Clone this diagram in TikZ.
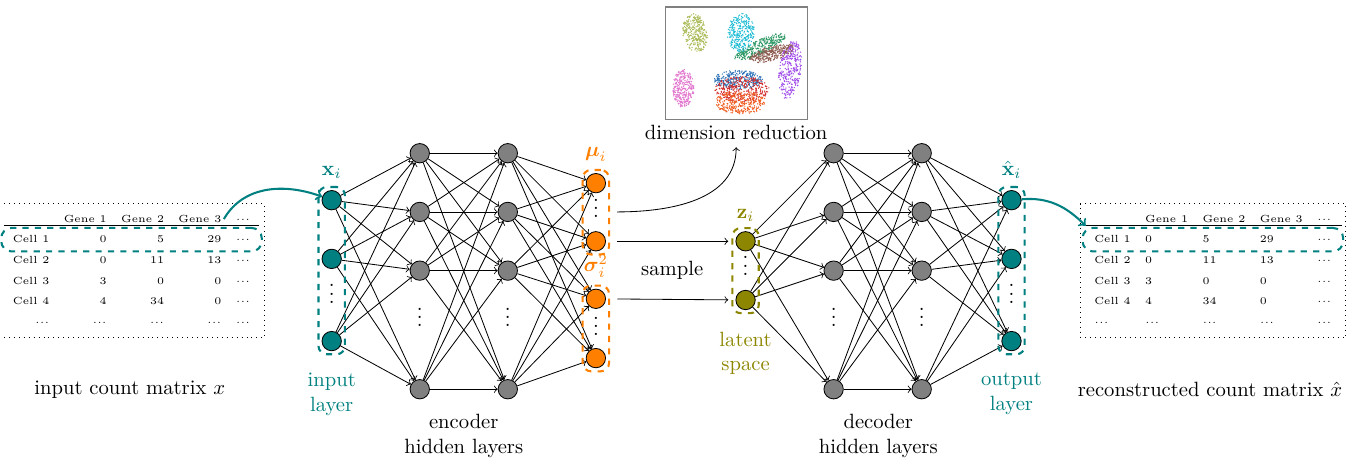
\documentclass[tikz,border=0pt]{standalone}
\usepackage{xcolor}
\usepackage{amssymb}
\usepackage{amsmath}
\usetikzlibrary{positioning,fit,matrix}

\definecolor{clolive}{RGB}{172,186,88}
\definecolor{clpink}{RGB}{226,118,206}
\definecolor{clcyan}{RGB}{28,188,212}
\definecolor{clgreen}{RGB}{42,150,98}
\definecolor{clbrown}{RGB}{142,92,80}
\definecolor{clpurple}{RGB}{158,72,232}
\definecolor{clblue}{RGB}{44,112,182}
\definecolor{clred}{RGB}{212,40,40}
\definecolor{clorange}{RGB}{240,92,30}

\newcommand{\celldots}{${\cdot}{\cdot}{\cdot}$}

\begin{document}
\begin{tikzpicture}[scale=1,
	neuron/.style={circle, draw, minimum size=0.33cm, inner sep=0pt},
	innode/.style={neuron, fill=teal},
	hidnode/.style={neuron, fill=gray},
	parnode/.style={neuron, fill=orange},
	latnode/.style={neuron, fill=olive},
	dotnode/.style={inner sep=0pt, yshift=3pt},
	conn/.style={->},
	layerbox/.style={draw, dashed, line width=1pt, rounded corners=4pt, inner sep=1.5pt},
	datatab/.style={matrix of nodes, nodes in empty cells, draw, dotted, inner xsep=5.8pt, inner ysep=2.5pt, column sep=5pt,
		nodes={font=\tiny, inner xsep=1pt, inner ysep=2.5pt, text height=4pt, text depth=1pt}},
	rowbox/.style={draw=teal, dashed, line width=1pt, rounded corners=5pt, inner xsep=4.5pt, inner ysep=0.5pt},
	tealarrow/.style={->, draw=teal, line width=1pt}]

	\useasboundingbox (0,0) rectangle (23.03,7.99);

	% count matrices
	\matrix (tin) [datatab, nodes={anchor=base east}] at (2.24,3.38) {
		 & Gene 1 & Gene 2 & Gene 3 & \celldots \\
		Cell 1 & 0 & 5 & 29 & \celldots \\
		Cell 2 & 0 & 11 & 13 & \celldots \\
		Cell 3 & 3 & 0 & 0 & \celldots \\
		Cell 4 & 4 & 34 & 0 & \celldots \\
		\celldots & \celldots & \celldots & \celldots & \celldots \\
	};
	\matrix (tout) [datatab, nodes={anchor=base west}] at (20.66,3.38) {
		 & Gene 1 & Gene 2 & Gene 3 & \celldots \\
		Cell 1 & 0 & 5 & 29 & \celldots \\
		Cell 2 & 0 & 11 & 13 & \celldots \\
		Cell 3 & 3 & 0 & 0 & \celldots \\
		Cell 4 & 4 & 34 & 0 & \celldots \\
		\celldots & \celldots & \celldots & \celldots & \celldots \\
	};
	\coordinate (rulein) at ([xshift=-3pt,yshift=1.5pt]tin-2-1.north west);
	\coordinate (ruleout) at ([xshift=-3pt,yshift=1.5pt]tout-2-1.north west);
	\draw (rulein) -- ([xshift=3pt,yshift=1.5pt]tin-2-5.north east);
	\draw (ruleout) -- ([xshift=4pt,yshift=1.5pt]tout-2-5.north east);
	\node[rowbox, fit=(tin-2-1)(tin-2-5)] (rowin) {};
	\node[rowbox, fit=(tout-2-1)(tout-2-5)] (rowout) {};
	\node (inlabel) at (2.21,1.36) {input count matrix $x$};
	\node (outlabel) at (20.61,1.36) {reconstructed count matrix $\hat{x}$};

	% encoder
	\node[innode] (in1) at (5.65,4.58) {};
	\node[innode] (in2) at (5.65,3.58) {};
	\node[innode] (in3) at (5.65,2.18) {};
	\node[dotnode] (indots) at (5.65,2.98) {$\vdots$};

	\node[hidnode] (ea1) at (7.15,5.38) {};
	\node[hidnode] (ea2) at (7.15,4.38) {};
	\node[hidnode] (ea3) at (7.15,3.38) {};
	\node[hidnode] (ea4) at (7.15,1.36) {};
	\node[dotnode] (eadots) at (7.15,2.58) {$\vdots$};

	\node[hidnode] (eb1) at (8.65,5.38) {};
	\node[hidnode] (eb2) at (8.65,4.38) {};
	\node[hidnode] (eb3) at (8.65,3.38) {};
	\node[hidnode] (eb4) at (8.65,1.36) {};
	\node[dotnode] (ebdots) at (8.65,2.58) {$\vdots$};

	\node[parnode] (p1) at (10.15,4.87) {};
	\node[parnode] (p2) at (10.15,3.88) {};
	\node[parnode] (p3) at (10.15,2.90) {};
	\node[parnode] (p4) at (10.15,1.89) {};
	\node[dotnode] (mudots) at (10.15,4.44) {$\vdots$};
	\node[dotnode] (sigdots) at (10.15,2.43) {$\vdots$};

	\foreach \i in {1,2,3}
		\foreach \j in {1,...,4}
			\draw[conn] (in\i) -- (ea\j);
	\foreach \i in {1,...,4}
		\foreach \j in {1,...,4}
			\draw[conn] (ea\i) -- (eb\j);
	\foreach \i in {1,...,4}
		\foreach \j in {1,...,4}
			\draw[conn] (eb\i) -- (p\j);

	% latent space
	\node[latnode] (z1) at (12.7,3.88) {};
	\node[latnode] (z2) at (12.7,2.88) {};
	\node[dotnode] (zdots) at (12.7,3.46) {$\vdots$};

	% decoder
	\node[hidnode] (da1) at (14.2,5.38) {};
	\node[hidnode] (da2) at (14.2,4.38) {};
	\node[hidnode] (da3) at (14.2,3.38) {};
	\node[hidnode] (da4) at (14.2,1.36) {};
	\node[dotnode] (dadots) at (14.2,2.58) {$\vdots$};

	\node[hidnode] (db1) at (15.7,5.38) {};
	\node[hidnode] (db2) at (15.7,4.38) {};
	\node[hidnode] (db3) at (15.7,3.38) {};
	\node[hidnode] (db4) at (15.7,1.36) {};
	\node[dotnode] (dbdots) at (15.7,2.58) {$\vdots$};

	\node[innode] (out1) at (17.23,4.58) {};
	\node[innode] (out2) at (17.23,3.58) {};
	\node[innode] (out3) at (17.23,2.18) {};
	\node[dotnode] (outdots) at (17.23,2.98) {$\vdots$};

	\foreach \i in {1,2}
		\foreach \j in {1,...,4}
			\draw[conn] (z\i) -- (da\j);
	\foreach \i in {1,...,4}
		\foreach \j in {1,...,4}
			\draw[conn] (da\i) -- (db\j);
	\foreach \i in {1,...,4}
		\foreach \j in {1,2,3}
			\draw[conn] (db\i) -- (out\j);

	% layer boxes and labels
	\node[layerbox, draw=teal, fit=(in1)(in3)] (inbox) {};
	\node[layerbox, draw=orange, fit=(p1)(p2)] (mubox) {};
	\node[layerbox, draw=orange, fit=(p3)(p4)] (sigbox) {};
	\node[layerbox, draw=olive, fit=(z1)(z2)] (zbox) {};
	\node[layerbox, draw=teal, fit=(out1)(out3)] (outbox) {};

	\node[teal, above=0pt of inbox] (xlabel) {$\mathbf{x}_i$};
	\node[orange, above=0pt of mubox] (mulabel) {$\boldsymbol{\mu}_i$};
	\node[orange, above=0pt of sigbox] (siglabel) {$\boldsymbol{\sigma}_i^2$};
	\node[olive, above=-1pt of zbox] (zlabel) {$\mathbf{z}_i$};
	\node[teal, above=0pt of outbox] (xhatlabel) {$\hat{\mathbf{x}}_i$};

	\node[teal, align=center, below=5pt of inbox] (inlayer) {input\\layer};
	\node[align=center] (enclabel) at (7.9,0.56) {encoder\\hidden layers};
	\node[olive, align=center, below=5pt of zbox] (latlabel) {latent\\space};
	\node[align=center] (declabel) at (14.96,0.56) {decoder\\hidden layers};
	\node[teal, align=center, below=5pt of outbox] (outlayer) {output\\layer};

	\node (samplelabel) at (11.45,3.39) {sample};
	\draw[conn, shorten <=5.5pt, shorten >=3.5pt] (p2) -- (z1);
	\draw[conn, shorten <=5.5pt, shorten >=3.5pt] (p3) -- (z2);

	\draw[tealarrow] (tin-1-4.east) to[out=60,in=160] (in1);
	\draw[tealarrow] (out1) to[out=5,in=135] (ruleout);

	% dimension reduction plot
	\draw[gray, line width=0.6pt] (11.33,5.95) rectangle (13.76,7.87);
	\pgfmathsetseed{7}
	\foreach \cx/\cy/\rx/\ry/\rot/\col in {11.84/7.43/0.21/0.33/10/clolive, 11.64/6.49/0.18/0.33/0/clpink,
		12.62/7.43/0.23/0.33/-5/clcyan, 12.95/7.19/0.48/0.12/25/clgreen, 13.15/7.08/0.40/0.12/15/clbrown,
		13.46/6.80/0.19/0.50/-8/clpurple, 12.57/6.63/0.42/0.17/0/clblue, 12.64/6.47/0.46/0.22/0/clred,
		12.61/6.25/0.44/0.20/0/clorange}{
		\foreach \k in {1,...,320}{
			\pgfmathsetmacro\pr{sqrt(rnd)}
			\pgfmathsetmacro\pa{360*rnd}
			\fill[\col, rotate around={\rot:(\cx,\cy)}] ({\cx+\rx*\pr*cos(\pa)},{\cy+\ry*\pr*sin(\pa)}) circle (0.35pt);
		}
	}
	\node (dimlabel) at (12.54,5.73) {dimension reduction};
	\coordinate (dimstart) at (10.51,4.38);
	\draw[conn] (dimstart) to[out=0,in=-90] (dimlabel.south);

\end{tikzpicture}
\end{document}
